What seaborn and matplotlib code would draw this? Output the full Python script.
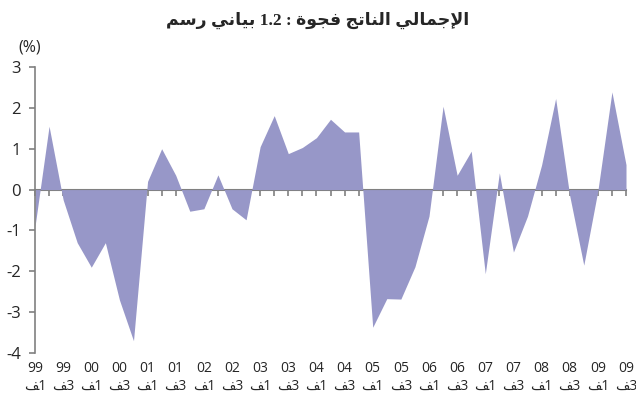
import seaborn as sns
import matplotlib.pyplot as plt
import numpy as np

# output gap, quarterly 1999 Q1 .. 2009 Q3 (%)
gap = [-0.9, 1.55, -0.25, -1.3, -1.9, -1.3, -2.7, -3.7, 0.2, 1.0,
       0.35, -0.53, -0.47, 0.36, -0.47, -0.74, 1.05, 1.81, 0.88, 1.03,
       1.27, 1.72, 1.41, 1.41, -3.37, -2.67, -2.68, -1.89, -0.65, 2.04,
       0.35, 0.94, -2.06, 0.41, -1.53, -0.65, 0.6, 2.23, -0.15, -1.85,
       -0.03, 2.39, 0.61]
label_years = ['99', '99', '00', '00', '01', '01', '02', '02', '03', '03', '04',
               '04', '05', '05', '06', '06', '07', '07', '08', '08', '09', '09']
label_quarters = ['1', '3'] * 11
title_words = ['رسم', 'بياني', '1.2', ':', 'فجوة', 'الناتج', 'الإجمالي']
unit_label = '(%)'

FILL = '#9797C8'
AXIS = '#808080'

# tiny arabic shaper (matplotlib has no shaping / bidi)
FORMS = {
    'ا': ('\ufe8d', '\ufe8e', None, None),
    'إ': ('\ufe87', '\ufe88', None, None),
    'ب': ('\ufe8f', '\ufe90', '\ufe91', '\ufe92'),
    'ة': ('\ufe93', '\ufe94', None, None),
    'ت': ('\ufe95', '\ufe96', '\ufe97', '\ufe98'),
    'ج': ('\ufe9d', '\ufe9e', '\ufe9f', '\ufea0'),
    'ر': ('\ufead', '\ufeae', None, None),
    'س': ('\ufeb1', '\ufeb2', '\ufeb3', '\ufeb4'),
    'ف': ('\ufed1', '\ufed2', '\ufed3', '\ufed4'),
    'ل': ('\ufedd', '\ufede', '\ufedf', '\ufee0'),
    'م': ('\ufee1', '\ufee2', '\ufee3', '\ufee4'),
    'ن': ('\ufee5', '\ufee6', '\ufee7', '\ufee8'),
    'و': ('\ufeed', '\ufeee', None, None),
    'ي': ('\ufef1', '\ufef2', '\ufef3', '\ufef4'),
    'لا': ('\ufefb', '\ufefc', None, None),
    'لإ': ('\ufef9', '\ufefa', None, None),
}


def shape(word):
    if word[0] not in FORMS:
        return word
    units = []
    i = 0
    while i < len(word):
        if word[i] == 'ل' and i + 1 < len(word) and word[i + 1] in 'اإ':
            units.append(word[i:i + 2])
            i += 2
        else:
            units.append(word[i])
            i += 1
    out = []
    for k, u in enumerate(units):
        f = FORMS[u]
        prev = FORMS.get(units[k - 1]) if k > 0 else None
        nxt = FORMS.get(units[k + 1]) if k + 1 < len(units) else None
        jp = prev is not None and prev[2] is not None
        jn = nxt is not None and f[2] is not None
        if jp and jn:
            out.append(f[3])
        elif jn:
            out.append(f[2])
        elif jp:
            out.append(f[1])
        else:
            out.append(f[0])
    return ''.join(reversed(out))


sns.set_style('ticks')
plt.rcParams['font.family'] = ['Open Sans', 'DejaVu Sans']
plt.rcParams['axes.unicode_minus'] = False

fig = plt.figure(figsize=(6.36, 4.03), dpi=100)
ax = fig.add_axes([35 / 636, 1 - 353 / 403, 591 / 636, 286 / 403])

x = np.arange(len(gap))
sns.lineplot(x=x, y=gap, ax=ax, color=FILL, linewidth=0)
ax.fill_between(x, gap, 0, color=FILL, linewidth=0)

ax.set_xlim(0, len(gap) - 1)
ax.set_ylim(-4, 3)
ax.set_yticks(range(-4, 4))
ax.set_xticks(x[::2])
ax.set_xticklabels([f'{y}\n{FORMS["ف"][1]}{q}' for y, q in zip(label_years, label_quarters)])
ax.set_xlabel('')
ax.set_ylabel('')

for s in ['top', 'right', 'bottom']:
    ax.spines[s].set_visible(False)
ax.spines['left'].set_color(AXIS)
ax.spines['left'].set_linewidth(1.2)
ax.tick_params(axis='x', length=0, pad=6, labelsize=10)
ax.tick_params(axis='y', length=4, color=AXIS, width=1.2, labelsize=12, pad=6)

# zero line with quarter tick marks
zero = ax.secondary_xaxis(4 / 7)
zero.set_alignment('bottom')
zero.set_xticks(x)
zero.set_xticklabels([])
zero.tick_params(axis='x', direction='out', length=4, color=AXIS, width=1.2)
zero.spines['bottom'].set_color(AXIS)
zero.spines['bottom'].set_linewidth(1.5)

title = ' '.join(shape(w) for w in title_words)
fig.text(0.5, 1 - 20 / 403, title, ha='center', va='center',
         fontsize=12.5, fontweight='bold', family=['Liberation Serif', 'DejaVu Sans'])
fig.text(30 / 636, 1 - 47 / 403, unit_label, ha='center', va='center', fontsize=11.5)

fig.savefig('out.png', dpi=100)
